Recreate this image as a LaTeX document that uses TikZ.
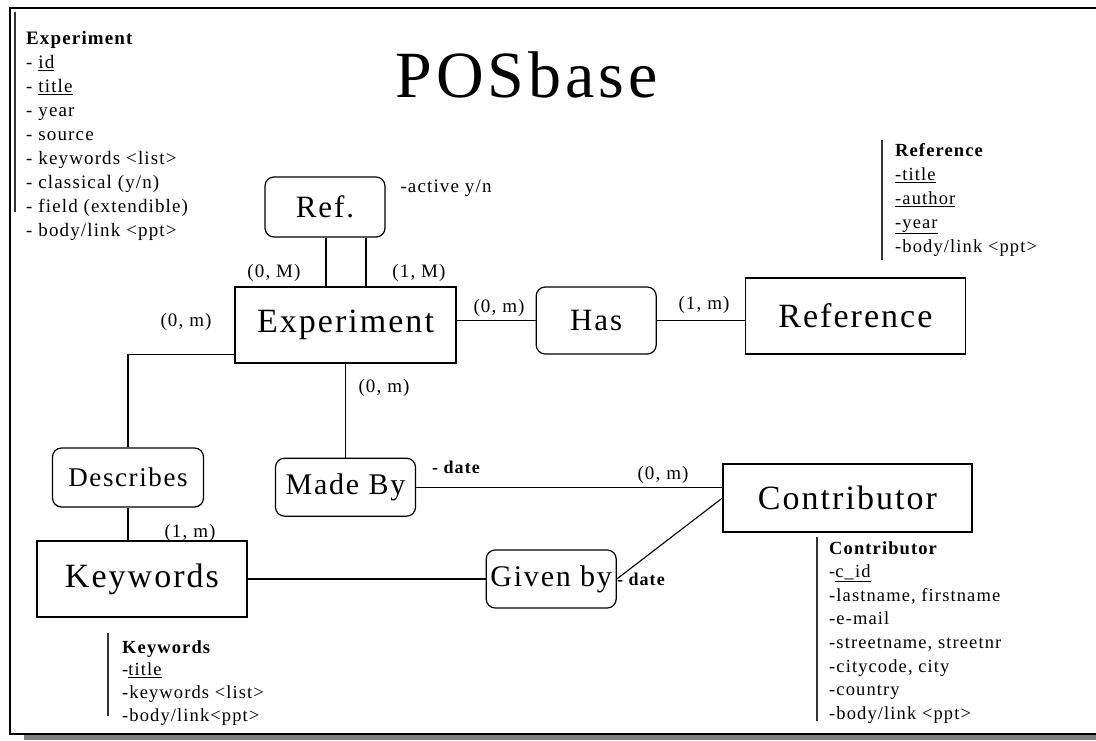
\documentclass[tikz,border=0pt]{standalone}
\usepackage{fontspec}
\setmainfont{Liberation Serif}[LetterSpace=6]
\newfontfamily\titlefont{Liberation Serif}[LetterSpace=6]
\usetikzlibrary{positioning}

\begin{document}
\begin{tikzpicture}[
    x=1pt, y=-1pt,
    entity/.style={rectangle, draw, line width=1.2pt, inner sep=0pt, font=\fontsize{34}{38}\selectfont},
    relation/.style={rectangle, rounded corners=9pt, draw, line width=1.2pt, inner sep=0pt, font=\fontsize{31}{35}\selectfont},
    card/.style={inner sep=0pt, font=\fontsize{19}{22}\selectfont},
    note/.style={inner sep=0pt, font=\bfseries\fontsize{18}{22}\selectfont},
    attrs/.style={anchor=north west, inner sep=0pt, align=left, font=\fontsize{18.5}{23.6}\selectfont},
    conn/.style={line width=1.1pt},
    bar/.style={line width=1.6pt, black!80}
]
    \clip (0,0) rectangle (1096,740);
    \fill[white] (0,0) rectangle (1096,740);

    % frame with its shadow
    \fill[black!50] (24,735) rectangle (1096,740);
    \draw[line width=2pt] (1100,8) -- (10,8) -- (10,734) -- (1100,734);

    \node[anchor=base, font=\titlefont\fontsize{66}{72}\selectfont] (title) at (526.5,97) {POSbase};

    % entities and relations
    \node[entity, minimum width=221pt, minimum height=76pt] (experiment) at (345.5,325) {Experiment};
    \node[relation, minimum width=120pt, minimum height=60pt] (ref) at (325,207) {Ref.};
    \node[relation, minimum width=120pt, minimum height=67pt, right=79pt of experiment, yshift=4.5pt] (has) {Has};
    \node[entity, minimum width=220pt, minimum height=76pt, right=88pt of has, yshift=4.5pt] (reference) {Reference};
    \node[relation, minimum width=140pt, minimum height=58pt, font=\fontsize{30}{34}\selectfont, below=94pt of experiment] (madeby) {Made By};
    \node[entity, minimum width=249pt, minimum height=68pt] (contributor) at (847.5,498) {Contributor};
    \node[relation, minimum width=151pt, minimum height=59pt, font=\fontsize{27}{31}\selectfont] (describes) at (128,477.5) {Describes};
    \node[entity, minimum width=210pt, minimum height=76pt] (keywords) at (142,579) {Keywords};
    \node[relation, minimum width=130pt, minimum height=58pt, font=\fontsize{30}{34}\selectfont, right=238pt of keywords] (givenby) {Given by};

    \draw[conn] ([xshift=1pt]ref.south) -- ([xshift=1pt]ref.south |- experiment.north);
    \draw[conn] ([xshift=41pt]ref.south) -- ([xshift=41pt]ref.south |- experiment.north);
    \draw[conn] (experiment.east |- has.west) -- (has.west);
    \draw[conn] (has.east) -- (has.east -| reference.west);
    \draw[conn] ([yshift=9pt]experiment.south west) -| (describes.north);
    \draw[conn] (describes.south) -- (describes.south |- keywords.north);
    \draw[conn] (experiment.south) -- (madeby.north);
    \draw[conn] (madeby.east) -- (madeby.east -| contributor.west);
    \draw[conn] (keywords.east) -- (givenby.west);
    \draw[conn] (givenby.east) -- (contributor.west);

    % cardinalities
    \node[card] (cardRefA) at (274,273) {(0, M)};
    \node[card] (cardRefB) at (419,273) {(1, M)};
    \node[card] (cardDesc) at (186,322) {(0, m)};
    \node[card] (cardHasA) at (499,308) {(0, m)};
    \node[card] (cardHasB) at (704,305) {(1, m)};
    \node[card] (cardMade) at (384,388) {(0, m)};
    \node[card] (cardContr) at (663,475) {(0, m)};
    \node[card] (cardKeyw) at (190,533) {(1, m)};

    \node[card] (active) at (446,188) {-active y/n};
    \node[note] (madedate) at (456,467) {- date};
    \node[note, anchor=west] (givendate) at (givenby.east) {- date};

    % attribute lists
    \node[attrs, font=\fontsize{19}{24}\selectfont] (explist) at (26,31) {\textbf{Experiment}\\
        - \underline{id}\\
        - \underline{title}\\
        - year\\
        - source\\
        - keywords <list>\\
        - classical (y/n)\\
        - field (extendible)\\
        - body/link <ppt>};
    \node[attrs, font=\fontsize{18.5}{24}\selectfont] (reflist) at (895,143) {\textbf{Reference}\\
        \underline{-title}\\
        \underline{-author}\\
        \underline{-year}\\
        -body/link <ppt>};
    \node[attrs] (contrlist) at (829,541) {\textbf{Contributor}\\
        -\underline{c\_id}\\
        -lastname, firstname\\
        -e-mail\\
        -streetname, streetnr\\
        -citycode, city\\
        -country\\
        -body/link <ppt>};
    \node[attrs, font=\fontsize{18.5}{22.7}\selectfont] (keywlist) at (122,640) {\textbf{Keywords}\\
        -\underline{title}\\
        -keywords <list>\\
        -body/link<ppt>};

    \draw[bar] ([xshift=-11pt, yshift=19pt]explist.north west) -- ([xshift=-11pt, yshift=29pt]explist.south west);
    \draw[bar] ([xshift=-13pt, yshift=3pt]reflist.north west) -- ([xshift=-13pt, yshift=-4pt]reflist.south west);
    \draw[bar] ([xshift=-12pt, yshift=4pt]contrlist.north west) -- ([xshift=-12pt, yshift=2pt]contrlist.south west);
    \draw[bar] ([xshift=-14pt, yshift=7pt]keywlist.north west) -- ([xshift=-14pt, yshift=9pt]keywlist.south west);
\end{tikzpicture}
\end{document}
